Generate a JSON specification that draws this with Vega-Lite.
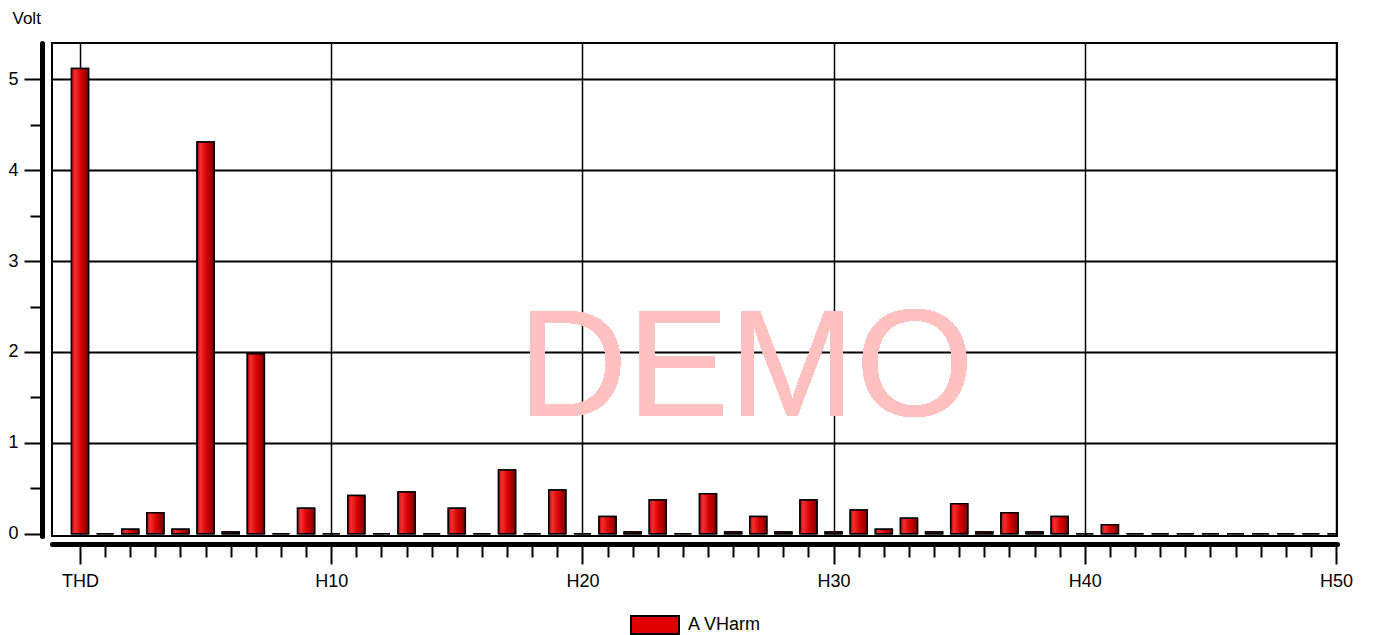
{
  "$schema": "https://vega.github.io/schema/vega-lite/v6.json",
  "width": 1285,
  "height": 493,
  "autosize": "none",
  "padding": {"left": 52, "top": 43, "right": 36, "bottom": 99},
  "background": "white",
  "config": {
    "font": "Liberation Sans",
    "view": {"stroke": "black", "strokeWidth": 2},
    "axis": {"labelFont": "Liberation Sans", "labelColor": "black", "titleFont": "Liberation Sans", "titleColor": "black", "titleFontWeight": "normal"}
  },
  "data": {"values": [
    {"h": 0, "label": "THD", "v": 5.12, "series": "A VHarm"},
    {"h": 1, "label": "H1", "v": 0, "series": "A VHarm"},
    {"h": 2, "label": "H2", "v": 0.05, "series": "A VHarm"},
    {"h": 3, "label": "H3", "v": 0.23, "series": "A VHarm"},
    {"h": 4, "label": "H4", "v": 0.05, "series": "A VHarm"},
    {"h": 5, "label": "H5", "v": 4.31, "series": "A VHarm"},
    {"h": 6, "label": "H6", "v": 0.02, "series": "A VHarm"},
    {"h": 7, "label": "H7", "v": 1.98, "series": "A VHarm"},
    {"h": 8, "label": "H8", "v": 0, "series": "A VHarm"},
    {"h": 9, "label": "H9", "v": 0.28, "series": "A VHarm"},
    {"h": 10, "label": "H10", "v": 0, "series": "A VHarm"},
    {"h": 11, "label": "H11", "v": 0.42, "series": "A VHarm"},
    {"h": 12, "label": "H12", "v": 0, "series": "A VHarm"},
    {"h": 13, "label": "H13", "v": 0.46, "series": "A VHarm"},
    {"h": 14, "label": "H14", "v": 0, "series": "A VHarm"},
    {"h": 15, "label": "H15", "v": 0.28, "series": "A VHarm"},
    {"h": 16, "label": "H16", "v": 0, "series": "A VHarm"},
    {"h": 17, "label": "H17", "v": 0.70, "series": "A VHarm"},
    {"h": 18, "label": "H18", "v": 0, "series": "A VHarm"},
    {"h": 19, "label": "H19", "v": 0.48, "series": "A VHarm"},
    {"h": 20, "label": "H20", "v": 0, "series": "A VHarm"},
    {"h": 21, "label": "H21", "v": 0.19, "series": "A VHarm"},
    {"h": 22, "label": "H22", "v": 0.02, "series": "A VHarm"},
    {"h": 23, "label": "H23", "v": 0.37, "series": "A VHarm"},
    {"h": 24, "label": "H24", "v": 0, "series": "A VHarm"},
    {"h": 25, "label": "H25", "v": 0.44, "series": "A VHarm"},
    {"h": 26, "label": "H26", "v": 0.02, "series": "A VHarm"},
    {"h": 27, "label": "H27", "v": 0.19, "series": "A VHarm"},
    {"h": 28, "label": "H28", "v": 0.02, "series": "A VHarm"},
    {"h": 29, "label": "H29", "v": 0.37, "series": "A VHarm"},
    {"h": 30, "label": "H30", "v": 0.02, "series": "A VHarm"},
    {"h": 31, "label": "H31", "v": 0.26, "series": "A VHarm"},
    {"h": 32, "label": "H32", "v": 0.05, "series": "A VHarm"},
    {"h": 33, "label": "H33", "v": 0.17, "series": "A VHarm"},
    {"h": 34, "label": "H34", "v": 0.02, "series": "A VHarm"},
    {"h": 35, "label": "H35", "v": 0.33, "series": "A VHarm"},
    {"h": 36, "label": "H36", "v": 0.02, "series": "A VHarm"},
    {"h": 37, "label": "H37", "v": 0.23, "series": "A VHarm"},
    {"h": 38, "label": "H38", "v": 0.02, "series": "A VHarm"},
    {"h": 39, "label": "H39", "v": 0.19, "series": "A VHarm"},
    {"h": 40, "label": "H40", "v": 0, "series": "A VHarm"},
    {"h": 41, "label": "H41", "v": 0.10, "series": "A VHarm"},
    {"h": 42, "label": "H42", "v": 0, "series": "A VHarm"},
    {"h": 43, "label": "H43", "v": 0, "series": "A VHarm"},
    {"h": 44, "label": "H44", "v": 0, "series": "A VHarm"},
    {"h": 45, "label": "H45", "v": 0, "series": "A VHarm"},
    {"h": 46, "label": "H46", "v": 0, "series": "A VHarm"},
    {"h": 47, "label": "H47", "v": 0, "series": "A VHarm"},
    {"h": 48, "label": "H48", "v": 0, "series": "A VHarm"},
    {"h": 49, "label": "H49", "v": 0, "series": "A VHarm"},
    {"h": 50, "label": "H50", "v": 0, "series": "A VHarm"}
  ]},
  "encoding": {
    "x": {
      "field": "h", "type": "quantitative",
      "scale": {"domain": [-1.115, 50.04], "nice": false, "zero": false, "padding": 0},
      "axis": {
        "title": null,
        "values": [0,1,2,3,4,5,6,7,8,9,10,11,12,13,14,15,16,17,18,19,20,21,22,23,24,25,26,27,28,29,30,31,32,33,34,35,36,37,38,39,40,41,42,43,44,45,46,47,48,49,50],
        "offset": 8,
        "domainColor": "black", "domainWidth": 5, "domainCap": "round",
        "tickColor": "black", "tickWidth": 2,
        "tickSize": {"condition": {"test": "datum.value % 10 === 0", "value": 20}, "value": 13},
        "labelExpr": "datum.value % 10 === 0 ? (datum.value === 0 ? 'THD' : 'H' + datum.value) : ''",
        "labelFontSize": 18, "labelPadding": 8, "labelOverlap": false,
        "labelBaseline": "top",
        "grid": true, "gridColor": "black", "gridWidth": 1.5,
        "gridOpacity": {"condition": {"test": "datum.value % 10 === 0", "value": 1}, "value": 0}
      }
    },
    "y": {
      "field": "v", "type": "quantitative",
      "scale": {"domain": [-0.025, 5.4], "nice": false, "zero": false, "padding": 0},
      "axis": {
        "title": "Volt", "titleAngle": 0, "titleAlign": "left", "titleBaseline": "alphabetic",
        "titleX": -30, "titleY": -20, "titleFontSize": 17,
        "values": [0,0.5,1,1.5,2,2.5,3,3.5,4,4.5,5],
        "offset": 10,
        "domainColor": "black", "domainWidth": 5, "domainCap": "round",
        "tickColor": "black", "tickWidth": 2,
        "tickSize": {"condition": {"test": "datum.value % 1 === 0", "value": 18}, "value": 12},
        "labelExpr": "datum.value % 1 === 0 ? '' + datum.value : ''",
        "labelFontSize": 18, "labelPadding": 6,
        "grid": true, "gridColor": "black", "gridWidth": 2,
        "gridOpacity": {"condition": {"test": "datum.value % 1 === 0 && datum.value > 0", "value": 1}, "value": 0}
      }
    }
  },
  "layer": [
    {
      "mark": {"type": "bar", "width": 17, "stroke": "black", "strokeWidth": 1.5, "clip": true},
      "encoding": {
        "y2": {"datum": 0},
        "fill": {
          "field": "series", "type": "nominal",
          "scale": {"range": ["#e00000"]},
          "legend": {
            "title": null, "orient": "none", "legendX": 578, "legendY": 557,
            "symbolType": "M-1,-0.375H1V0.375H-1Z", "symbolSize": 2304,
            "symbolStrokeColor": "black", "symbolStrokeWidth": 2,
            "labelFont": "Liberation Sans", "labelFontSize": 18, "labelColor": "black",
            "labelOffset": 8
          }
        }
      }
    },
    {
      "mark": {
        "type": "bar", "width": 17, "stroke": "black", "strokeWidth": 1.5, "clip": true,
        "color": {"gradient": "linear", "x1": 0, "y1": 0, "x2": 1, "y2": 0,
          "stops": [
            {"offset": 0, "color": "#b80808"},
            {"offset": 0.2, "color": "#f23030"},
            {"offset": 0.55, "color": "#d80000"},
            {"offset": 1, "color": "#7a0000"}
          ]}
      },
      "encoding": {"y2": {"datum": 0}}
    },
    {
      "mark": {"type": "text", "text": "DEMO", "font": "Liberation Sans", "fontSize": 152, "color": "#ffc0c0", "align": "center", "baseline": "alphabetic"},
      "encoding": {"x": {"datum": 26.5}, "y": {"datum": 1.29}}
    }
  ]
}
